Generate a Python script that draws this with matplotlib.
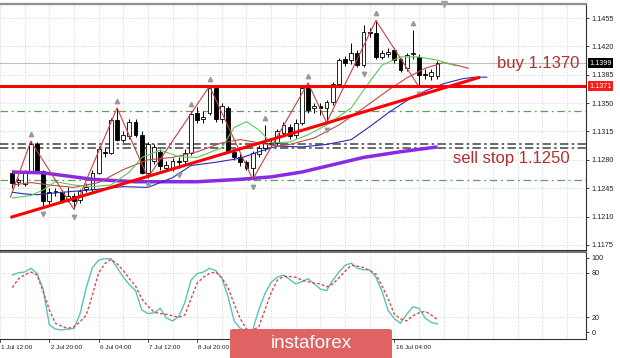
import matplotlib.pyplot as plt
from matplotlib.patches import FancyBboxPatch
from matplotlib.transforms import blended_transform_factory
import numpy as np

plt.rcParams['font.family'] = ['Liberation Sans', 'DejaVu Sans']

# EURUSD H4 candles, bar 0 = 1 Jul 20:00 ... bar 69 = 17 Jul 08:00
opens = [1.1264, 1.1253, 1.1250, 1.1266, 1.1299, 1.1266, 1.1229, 1.1240, 1.1240, 1.1232,
         1.1236, 1.1231, 1.1244, 1.1244, 1.1264, 1.1290, 1.1289, 1.1329, 1.1305, 1.1309,
         1.1327, 1.1311, 1.1264, 1.1279, 1.1290, 1.1270, 1.1270, 1.1278, 1.1278, 1.1289,
         1.1338, 1.1330, 1.1338, 1.1369, 1.1330, 1.1344, 1.1290, 1.1284, 1.1277, 1.1270,
         1.1287, 1.1295, 1.1301, 1.1301, 1.1313, 1.1321, 1.1311, 1.1326, 1.1369, 1.1344,
         1.1346, 1.1344, 1.1351, 1.1373, 1.1405, 1.1403, 1.1412, 1.1397, 1.1438, 1.1436,
         1.1407, 1.1410, 1.1415, 1.1404, 1.1393, 1.1410, 1.1407, 1.1386, 1.1383, 1.1383]
highs = [1.1268, 1.1258, 1.1267, 1.1303, 1.1302, 1.1268, 1.1245, 1.1245, 1.1243, 1.1247,
         1.1239, 1.1244, 1.1252, 1.1268, 1.1297, 1.1295, 1.1332, 1.1344, 1.1316, 1.1330,
         1.1330, 1.1315, 1.1302, 1.1300, 1.1293, 1.1278, 1.1282, 1.1283, 1.1293, 1.1340,
         1.1345, 1.1340, 1.1371, 1.1372, 1.1350, 1.1347, 1.1294, 1.1287, 1.1280, 1.1291,
         1.1298, 1.1323, 1.1305, 1.1318, 1.1327, 1.1324, 1.1330, 1.1372, 1.1375, 1.1350,
         1.1350, 1.1354, 1.1376, 1.1406, 1.1408, 1.1424, 1.1415, 1.1446, 1.1443, 1.1452,
         1.1416, 1.1418, 1.1418, 1.1406, 1.1412, 1.1440, 1.1410, 1.1392, 1.1392, 1.1402]
lows = [1.1245, 1.1248, 1.1248, 1.1264, 1.1264, 1.1222, 1.1225, 1.1236, 1.1227, 1.1228,
        1.1219, 1.1227, 1.1240, 1.1241, 1.1262, 1.1284, 1.1287, 1.1303, 1.1302, 1.1306,
        1.1308, 1.1262, 1.1258, 1.1275, 1.1268, 1.1266, 1.1266, 1.1270, 1.1274, 1.1286,
        1.1325, 1.1326, 1.1335, 1.1327, 1.1325, 1.1288, 1.1280, 1.1273, 1.1267, 1.1256,
        1.1284, 1.1291, 1.1296, 1.1298, 1.1310, 1.1306, 1.1307, 1.1323, 1.1338, 1.1338,
        1.1335, 1.1326, 1.1348, 1.1370, 1.1396, 1.1398, 1.1394, 1.1395, 1.1432, 1.1404,
        1.1404, 1.1407, 1.1400, 1.1388, 1.1390, 1.1405, 1.1370, 1.1380, 1.1379, 1.1380]
closes = [1.1252, 1.1255, 1.1264, 1.1300, 1.1266, 1.1229, 1.1240, 1.1241, 1.1229, 1.1235,
          1.1229, 1.1241, 1.1247, 1.1264, 1.1293, 1.1288, 1.1329, 1.1305, 1.1311, 1.1327,
          1.1311, 1.1264, 1.1299, 1.1296, 1.1272, 1.1274, 1.1278, 1.1277, 1.1289, 1.1336,
          1.1329, 1.1333, 1.1369, 1.1330, 1.1346, 1.1290, 1.1284, 1.1277, 1.1270, 1.1288,
          1.1295, 1.1301, 1.1300, 1.1315, 1.1323, 1.1309, 1.1326, 1.1369, 1.1342, 1.1346,
          1.1344, 1.1351, 1.1373, 1.1403, 1.1400, 1.1412, 1.1397, 1.1438, 1.1436, 1.1407,
          1.1412, 1.1413, 1.1403, 1.1391, 1.1409, 1.1412, 1.1385, 1.1385, 1.1388, 1.1399]

# moving average (thick purple)
ma_bars = [0, 5, 10, 13, 20, 30, 37, 42, 47, 52, 57, 63, 69]
ma_vals = [1.1265, 1.1264, 1.1259, 1.1256, 1.1253, 1.1253, 1.1256, 1.1259, 1.1265,
           1.1274, 1.1283, 1.1290, 1.1296]

# Alligator: jaw (blue), teeth (red), lips (green), drawn shifted forward
jaw_bars = [0, 2, 4, 8, 13, 18, 22, 26, 29, 33, 37, 40, 43, 47, 51, 55, 58, 61, 64, 67, 70, 73, 75, 77]
jaw_vals = [1.1240, 1.1238, 1.1237, 1.1240, 1.1243, 1.1247, 1.1246, 1.1258, 1.1273, 1.1277,
            1.1282, 1.1290, 1.1297, 1.1296, 1.1299, 1.1305, 1.1321, 1.1338, 1.1353, 1.1365,
            1.1374, 1.1380, 1.1382, 1.1382]
teeth_bars = [0, 3, 6, 10, 14, 18, 22, 26, 30, 34, 37, 40, 43, 45, 49, 53, 57, 61, 64, 67, 70, 72, 74]
teeth_vals = [1.1249, 1.1252, 1.1249, 1.1246, 1.1252, 1.1268, 1.1280, 1.1283, 1.1290, 1.1301,
              1.1305, 1.1301, 1.1297, 1.1299, 1.1307, 1.1323, 1.1344, 1.1366, 1.1381, 1.1393,
              1.1400, 1.1397, 1.1393]
lips_bars = [0, 3, 5, 7, 10, 13, 16, 19, 21, 24, 27, 30, 34, 36, 38, 40, 42, 45, 48, 51,
             55, 57, 60, 63, 66, 69, 72]
lips_vals = [1.1233, 1.1236, 1.1243, 1.1253, 1.1249, 1.1247, 1.1249, 1.1265, 1.1283, 1.1292,
             1.1284, 1.1283, 1.1295, 1.1320, 1.1327, 1.1317, 1.1301, 1.1302, 1.1311, 1.1323,
             1.1344, 1.1366, 1.1397, 1.1407, 1.1407, 1.1403, 1.1396]

# zigzag turning points
zz_bars = [-0.3, 3, 10, 17, 22, 32, 39, 48, 51, 59, 66]
zz_vals = [1.1234, 1.1303, 1.1219, 1.1344, 1.1258, 1.1371, 1.1256, 1.1375, 1.1326, 1.1452, 1.1370]

fractal_up = [3, 17, 29, 32, 41, 48, 59, 65]
fractal_down = [5, 10, 22, 27, 39, 51, 57, 66]

# trend line and levels
trend_bars = [-0.3, 75.9]
trend_vals = [1.1209, 1.1382]
resistance = 1.1371
last_price = 1.1399
green_levels = [1.1340, 1.1255]
gray_levels = [1.1300, 1.1295]

# stochastic
stoch_main = [77, 80, 81, 86, 79, 58, 10, 4, 3, 4, 5, 25, 60, 87, 97, 99, 99, 87, 74, 64,
              56, 30, 25, 26, 32, 19, 15, 21, 40, 70, 79, 81, 86, 83, 73, 48, 15, 5, 1, 3,
              30, 52, 67, 74, 77, 71, 65, 68, 72, 65, 58, 56, 70, 81, 90, 93, 86, 84, 84, 74,
              55, 29, 18, 12, 24, 34, 32, 19, 13, 11]
stoch_signal = [60, 72, 77, 81, 77, 55, 30, 12, 8, 5, 7, 14, 23, 50, 80, 92, 98, 92, 83, 72,
                62, 45, 35, 27, 25, 24, 22, 20, 23, 45, 66, 74, 79, 81, 73, 60, 38, 18, 4, 3,
                7, 30, 53, 70, 75, 75, 74, 70, 68, 66, 65, 61, 65, 73, 82, 90, 89, 87, 83, 78,
                62, 45, 24, 18, 15, 22, 26, 28, 23, 17]

price_ticks = [1.1455, 1.1420, 1.1385, 1.1350, 1.1315, 1.1280, 1.1245, 1.1210, 1.1175]
# labels not hidden by the logo
time_labels = ['1 Jul 12:00', '2 Jul 20:00', '6 Jul 04:00', '7 Jul 12:00', '8 Jul 20:00',
               '16 Jul 04:00']
label_bars = [-2, 6, 14, 22, 30, 62]
tick_bars = [-2, 6, 14, 22, 30, 38, 46, 54, 62]

W, H = 620, 358
fig = plt.figure(figsize=(6.2, 3.58), dpi=100)
ax = fig.add_axes([0, 1 - 250 / H, 586 / W, 246 / H])
ax2 = fig.add_axes([0, 1 - 339 / H, 586 / W, 87 / H])

xmin, xmax = -0.32, 93.1
for a in (ax, ax2):
    a.set_xlim(xmin, xmax)
    a.spines['left'].set_visible(False)
    for s in ('right', 'bottom', 'top'):
        a.spines[s].set_color('#303030')
        a.spines[s].set_linewidth(0.8)
    a.yaxis.tick_right()
    a.tick_params(axis='y', labelsize=5.2, length=2, pad=2, width=0.6, colors='#202020')
    a.set_xticks(np.arange(-2, 94, 4))
    a.tick_params(axis='x', length=0, labelbottom=False)
    a.grid(True, axis='x', color='#c8c8c8', ls=(0, (1, 2)), lw=0.6)
ax.spines['top'].set_color('#909090')
ax.spines['top'].set_linewidth(1.6)
ax2.spines['top'].set_color('#707070')
ax2.spines['top'].set_linewidth(1.4)

# ---- price panel
ax.set_ylim(1.11688, 1.14723)
ax.set_yticks(price_ticks)
ax.set_yticklabels([f'{t:.4f}' for t in price_ticks])
ax.grid(True, axis='y', color='#c8c8c8', ls=(0, (1, 2)), lw=0.6)

n = len(opens)
idx = np.arange(n)
o = np.array(opens)
c = np.array(closes)
up = c >= o
ax.vlines(idx, lows, highs, color='black', lw=0.7, zorder=3)
ax.bar(idx[up], np.maximum((c - o)[up], 0.00004), bottom=o[up], width=0.62,
       color='white', edgecolor='black', lw=0.6, zorder=3)
ax.bar(idx[~up], (o - c)[~up], bottom=c[~up], width=0.62,
       color='black', edgecolor='black', lw=0.6, zorder=3)

ax.axhline(last_price, color='#c0c0c0', lw=0.8, zorder=2)
for lv in green_levels:
    ax.axhline(lv, color='#5e9e5e', lw=0.9, ls=(0, (6, 3, 1.5, 3)), zorder=2)
for lv in gray_levels:
    ax.axhline(lv, color='#505050', lw=1.2, ls=(0, (5, 2, 1.5, 2)), zorder=2)

ax.plot(ma_bars, ma_vals, color='#8a2be2', lw=2.5, zorder=4, solid_capstyle='butt')
ax.plot(jaw_bars, jaw_vals, color='#2a2ab8', lw=0.8, zorder=4)
ax.plot(teeth_bars, teeth_vals, color='#c04848', lw=0.8, zorder=4)
ax.plot(lips_bars, lips_vals, color='#55cc55', lw=0.8, zorder=4)
ax.plot(zz_bars, zz_vals, color='#c84040', lw=0.8, zorder=4)

h = np.array(highs)
l = np.array(lows)
ax.plot(fractal_up, h[fractal_up] + 0.0009, ls='none', marker='^', ms=3.2,
        color='#9a9a9a', zorder=5)
ax.plot(fractal_down, l[fractal_down] - 0.0009, ls='none', marker='v', ms=3.2,
        color='#9a9a9a', zorder=5)

ax.axhline(resistance, color='#ff0000', lw=2.2, zorder=6)
ax.plot(trend_bars, trend_vals, color='#ff0000', lw=2.2, zorder=6, solid_capstyle='butt')

ax.text(78.6, 1.1399, 'buy 1.1370', fontsize=12, color='#b03030', va='center', zorder=7)
ax.text(71.5, 1.12823, 'sell stop 1.1250', fontsize=12, color='#b03030', va='center', zorder=7)

# chart-shift marker
ax.plot([70.0], [1.0], transform=blended_transform_factory(ax.transData, ax.transAxes),
        marker='v', ms=5, color='#a0a0a0', clip_on=False, zorder=8)

tr = blended_transform_factory(ax.transAxes, ax.transData)
ax.text(1.006, last_price, f'{last_price:.4f}', transform=tr, fontsize=5.2, color='white',
        va='center', ha='left', clip_on=False,
        bbox=dict(boxstyle='square,pad=0.2', fc='black', ec='none'))
ax.text(1.006, resistance, f'{resistance:.4f}', transform=tr, fontsize=5.2, color='white',
        va='center', ha='left', clip_on=False,
        bbox=dict(boxstyle='square,pad=0.2', fc='#ff1a1a', ec='none'))

# ---- stochastic panel
ax2.set_ylim(-9.3, 108)
ax2.set_yticks([100, 80, 20, 0])
ax2.set_yticklabels(['100', '80', '20', '0'])
for lv in (80, 20):
    ax2.axhline(lv, color='#c8c8c8', ls=(0, (1, 2)), lw=0.6)
ax2.plot(idx, stoch_main, color='#5cc0c0', lw=1.0)
ax2.plot(idx, stoch_signal, color='#d84848', lw=1.0, ls=(0, (2, 1.5)))

trx = blended_transform_factory(ax2.transData, ax2.transAxes)
for b in tick_bars:
    ax2.plot([b, b], [0, -0.04], transform=trx, color='#303030', lw=0.6, clip_on=False)
for b, lab in zip(label_bars, time_labels):
    ax2.text(b + 0.2, -0.1, lab, transform=trx, fontsize=4.6, ha='left', va='center',
             color='#202020', clip_on=False)

# logo
logo = FancyBboxPatch((230 / W, -0.02), 162 / W, 29 / H + 0.02,
                      boxstyle='round,pad=0,rounding_size=0.006',
                      transform=fig.transFigure, fc='#e06363', ec='none', zorder=10)
fig.patches.append(logo)
fig.text(311 / W, 1 - 344 / H, 'instaforex', color='white', fontsize=13.5,
         ha='center', va='center', zorder=11)

fig.savefig('out.png', dpi=100)
